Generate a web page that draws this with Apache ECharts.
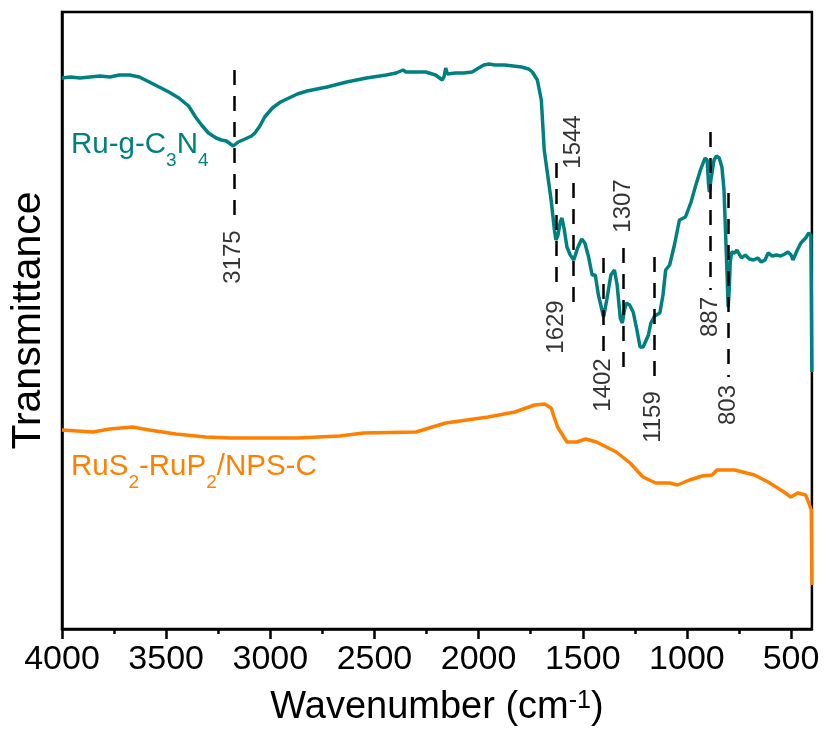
<!DOCTYPE html>
<html>
<head>
<meta charset="utf-8">
<script src="https://cdn.jsdelivr.net/npm/echarts@6/dist/echarts.min.js"></script>
<style>
  html, body { margin: 0; padding: 0; background: #fff; }
  #chart { width: 831px; height: 733px; }
</style>
</head>
<body>
<div id="chart"></div>
<script>
// FT-IR spectra, transmittance in arbitrary units (curves are offset vertically)
const wavenumberMin = 400;
const wavenumberMax = 4000;
const majorTicks = [4000, 3500, 3000, 2500, 2000, 1500, 1000, 500];
const minorTicks = [3750, 3250, 2750, 2250, 1750, 1250, 750];

// Ru-g-C3N4 spectrum: [wavenumber, transmittance]
const ruCNWavenumber = [4000, 3960, 3913, 3866, 3818, 3771, 3724, 3676, 3629, 3581, 3534, 3487, 3439, 3392, 3359, 3330, 3297, 3260, 3235, 3211, 3178, 3154, 3121, 3090, 3074, 3050, 3027, 2990, 2951, 2870, 2823, 2728, 2633, 2538, 2443, 2396, 2363, 2349, 2300, 2254, 2207, 2174, 2165, 2158, 2150, 2111, 2070, 2031, 2000, 1975, 1969, 1950, 1922, 1874, 1794, 1760, 1742, 1718, 1699, 1685, 1652, 1636, 1629, 1620, 1608, 1600, 1590, 1576, 1560, 1543, 1525, 1505, 1490, 1472, 1455, 1440, 1425, 1400, 1385, 1365, 1348, 1335, 1320, 1310, 1300, 1291, 1275, 1258, 1240, 1225, 1210, 1201, 1185, 1173, 1155, 1130, 1115, 1102, 1083, 1060, 1036, 1007, 980, 960, 935, 913, 903, 896, 892, 885, 870, 858, 845, 832, 822, 815, 808, 802, 797, 792, 785, 770, 760, 752, 738, 720, 700, 680, 660, 643, 625, 610, 590, 570, 550, 530, 515, 500, 491, 470, 453, 430, 415, 405, 401, 400];
const ruCNTransmittance = [551, 552, 551, 552, 553, 552, 554, 554, 552, 547, 542, 537, 531, 523, 512, 504, 496, 491, 489, 488, 483, 487, 490, 493, 496, 503, 512, 521, 527, 535, 538, 542, 547, 551, 554, 556, 559, 557, 557, 557, 554, 549, 553, 561, 555, 556, 556, 557, 561, 564, 566, 565, 564, 564, 562, 560, 557, 549, 529, 479, 429, 399, 389, 393, 407, 411, 401, 382, 374, 369, 381, 390, 386, 372, 354, 354, 334, 312, 329, 354, 359, 344, 311, 306, 319, 326, 324, 317, 299, 282, 282, 284, 294, 306, 313, 316, 334, 359, 364, 384, 409, 412, 427, 442, 459, 471, 469, 444, 437, 449, 469, 473, 471, 462, 439, 399, 359, 322, 339, 367, 377, 376, 379, 381, 371, 374, 370, 369, 371, 367, 369, 376, 373, 374, 373, 375, 377, 374, 369, 379, 386, 391, 396, 394, 396, 257];

// RuS2-RuP2/NPS-C spectrum: [wavenumber, transmittance]
const ruSPWavenumber = [4000, 3851, 3771, 3662, 3581, 3453, 3311, 3187, 2870, 2667, 2553, 2301, 2158, 1954, 1826, 1731, 1683, 1652, 1621, 1576, 1529, 1486, 1434, 1339, 1273, 1211, 1150, 1083, 1045, 988, 927, 879, 856, 771, 676, 610, 534, 501, 468, 430, 415, 403, 400];
const ruSPTransmittance = [199, 197, 200, 202, 199, 195, 192, 191, 191, 193, 196, 197, 206, 212, 217, 224, 225, 221, 202, 187, 187, 190, 187, 177, 166, 152, 146, 146, 144, 149, 153, 154, 159, 159, 154, 147, 137, 132, 136, 134, 126, 119, 44];

// Assigned bands of Ru-g-C3N4
const peakNames = ['3175', '1629', '1544', '1402', '1307', '1159', '887', '803'];
const peakWavenumbers = [3175, 1629, 1544, 1402, 1307, 1159, 887, 803];

// Layout of the band markers: dashed segment extent and label centre (transmittance units)
const markerTop = [559, 466, 446, 371, 381, 372, 497, 436];
const markerBottom = [409, 339, 319, 272, 259, 246, 339, 252];
const markerLabelY = [372, 302, 487, 244, 423, 212, 312, 224];

const TEAL = '#008080';
const ORANGE = '#ff8000';
const FONT = '"Liberation Sans", Arial, Helvetica, sans-serif';

const zip = (xs, ys) => xs.map((x, i) => [x, ys[i]]);

const markerSegments = peakWavenumbers.map((w, i) => [
  { coord: [w, markerTop[i]] },
  { coord: [w, markerBottom[i]] }
]);
const markerLabels = peakWavenumbers.map((w, i) => ({ name: peakNames[i], value: [w, markerLabelY[i]] }));

// rich-text styles for chemical formulas with subscripts
const formulaRich = (color) => ({
  a: { fontSize: 29.5, fill: color, fontFamily: FONT, lineHeight: 31, verticalAlign: 'top' },
  s: { fontSize: 19, fill: color, fontFamily: FONT, lineHeight: 40, verticalAlign: 'bottom' }
});

const chart = echarts.init(document.getElementById('chart'), null, { renderer: 'canvas' });

chart.setOption({
  animation: false,
  backgroundColor: '#fff',
  textStyle: { fontFamily: FONT },
  grid: {
    left: 61, right: 10, top: 12, bottom: 104,
    show: true, borderColor: '#000', borderWidth: 2.5, backgroundColor: 'transparent'
  },
  xAxis: [
    {
      type: 'value', min: wavenumberMin, max: wavenumberMax, inverse: true,
      axisLine: { show: true, lineStyle: { color: '#000', width: 2.5 } },
      axisTick: { show: true, customValues: majorTicks, length: 10, inside: false, lineStyle: { color: '#000', width: 2.5 } },
      axisLabel: {
        customValues: majorTicks, fontSize: 34, color: '#000', margin: 14, fontFamily: FONT,
        formatter: (v) => String(v)
      },
      splitLine: { show: false },
      name: '{a|Wavenumber (cm}{s|-1}{a|)}',
      nameLocation: 'middle', nameGap: 60,
      nameTextStyle: {
        rich: {
          a: { fontSize: 38, color: '#000', fontFamily: FONT, lineHeight: 38, verticalAlign: 'bottom' },
          s: { fontSize: 25, color: '#000', fontFamily: FONT, lineHeight: 18, verticalAlign: 'top' }
        }
      }
    },
    {
      type: 'value', min: wavenumberMin, max: wavenumberMax, inverse: true, position: 'bottom',
      axisLine: { show: false },
      axisTick: { show: true, customValues: minorTicks, length: 5, inside: false, lineStyle: { color: '#000', width: 2.5 } },
      axisLabel: { show: false },
      splitLine: { show: false }
    }
  ],
  yAxis: {
    type: 'value', min: 0, max: 617,
    axisLine: { show: true, lineStyle: { color: '#000', width: 2.5 } },
    axisTick: { show: false },
    axisLabel: { show: false },
    splitLine: { show: false },
    name: 'Transmittance', nameLocation: 'middle', nameGap: 13,
    nameTextStyle: { fontSize: 41, color: '#000', fontFamily: FONT }
  },
  series: [
    {
      name: 'RuS2-RuP2/NPS-C', type: 'line', data: zip(ruSPWavenumber, ruSPTransmittance),
      showSymbol: false, symbol: 'none', lineStyle: { color: ORANGE, width: 3.5 }, itemStyle: { color: ORANGE }
    },
    {
      name: 'Ru-g-C3N4', type: 'line', data: zip(ruCNWavenumber, ruCNTransmittance),
      showSymbol: false, symbol: 'none', lineStyle: { color: TEAL, width: 3.5 }, itemStyle: { color: TEAL }
    },
    {
      name: 'bands', type: 'scatter', data: markerLabels, symbolSize: 0, silent: true, z: 5,
      label: {
        show: true, position: 'inside', rotate: 90, formatter: (p) => p.name,
        fontSize: 24, color: '#000', fontFamily: FONT
      },
      markLine: {
        silent: true, symbol: 'none', animation: false,
        label: { show: false },
        lineStyle: { color: '#000', width: 2.5, type: [15, 11] },
        data: markerSegments
      }
    }
  ],
  graphic: [
    {
      type: 'text', left: 71, top: 130, silent: true,
      style: { text: '{a|Ru-g-C}{s|3}{a|N}{s|4}', rich: formulaRich(TEAL) }
    },
    {
      type: 'text', left: 71, top: 452, silent: true,
      style: { text: '{a|RuS}{s|2}{a|-RuP}{s|2}{a|/NPS-C}', rich: formulaRich(ORANGE) }
    }
  ]
});
</script>
</body>
</html>
